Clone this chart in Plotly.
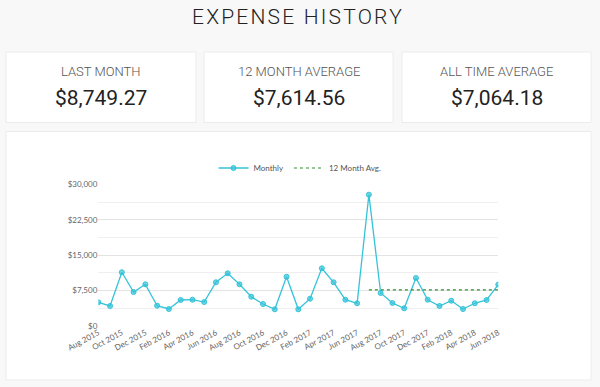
import plotly.graph_objects as go

W, H = 600, 387

months = ["Aug 2015", "Sep 2015", "Oct 2015", "Nov 2015", "Dec 2015", "Jan 2016", "Feb 2016",
          "Mar 2016", "Apr 2016", "May 2016", "Jun 2016", "Jul 2016", "Aug 2016", "Sep 2016",
          "Oct 2016", "Nov 2016", "Dec 2016", "Jan 2017", "Feb 2017", "Mar 2017", "Apr 2017",
          "May 2017", "Jun 2017", "Jul 2017", "Aug 2017", "Sep 2017", "Oct 2017", "Nov 2017",
          "Dec 2017", "Jan 2018", "Feb 2018", "Mar 2018", "Apr 2018", "May 2018", "Jun 2018"]
monthly = [5000, 4220, 11360, 7180, 8810, 4280, 3580, 5490, 5550, 5060, 9240, 11140, 8810, 6190,
           4640, 3520, 10420, 3520, 5760, 12200, 9240, 5550, 4790, 27800, 6970, 4850, 3730, 10150,
           5550, 4220, 5340, 3580, 4790, 5490, 8749.27]
avg_months = months[-12:]
avg_values = [7614.56] * 12
tick_labels = months[::2]
y_ticks = [0, 7500, 15000, 22500, 30000]
y_tick_text = ["$0", "$7,500", "$15,000", "$22,500", "$30,000"]

cards = [("LAST MONTH", "$8,749.27"), ("12 MONTH AVERAGE", "$7,614.56"), ("ALL TIME AVERAGE", "$7,064.18")]

def px(x):
    return x / W

def py(y):
    return 1 - y / H

fig = go.Figure()
fig.add_trace(go.Scatter(
    x=months, y=monthly, mode="lines+markers", name="Monthly",
    line=dict(color="#35c3d9", width=1.3),
    marker=dict(size=5, color="rgba(53,195,217,0.7)", line=dict(color="#35c3d9", width=1)),
))
fig.add_trace(go.Scatter(
    x=avg_months, y=avg_values, mode="lines", name="12 Month Avg.",
    line=dict(color="#2f8f2f", width=1.2, dash="dot"),
))

shapes = []
card_x = [(6, 196), (204, 393), (402, 591)]
for (x0, x1) in card_x:
    shapes.append(dict(type="rect", xref="paper", yref="paper", x0=px(x0), x1=px(x1),
                       y0=py(122.5), y1=py(52), fillcolor="white",
                       line=dict(color="#ececec", width=1), layer="below"))
shapes.append(dict(type="rect", xref="paper", yref="paper", x0=px(6), x1=px(591),
                   y0=py(380), y1=py(131.5), fillcolor="white",
                   line=dict(color="#ececec", width=1), layer="below"))

annotations = [dict(
    text='<span style="letter-spacing:2.2px">EXPENSE HISTORY</span>',
    x=px(298), y=py(17), xref="paper", yref="paper", showarrow=False,
    font=dict(family="Roboto", size=21, color="#222222", weight=300),
    xanchor="center", yanchor="middle")]
for (x0, x1), (lab, val) in zip(card_x, cards):
    cx = (x0 + x1) / 2
    annotations.append(dict(text=lab, x=px(cx), y=py(71), xref="paper", yref="paper",
                            showarrow=False, xanchor="center", yanchor="middle",
                            font=dict(family="Roboto", size=13, color="#555555", weight=300)))
    annotations.append(dict(text=val, x=px(cx), y=py(98), xref="paper", yref="paper",
                            showarrow=False, xanchor="center", yanchor="middle",
                            font=dict(family="Roboto", size=21, color="#222222", weight=400)))

fig.update_layout(
    width=W, height=H,
    margin=dict(l=0, r=0, t=0, b=0, autoexpand=False),
    paper_bgcolor="#f8f8f8", plot_bgcolor="white",
    shapes=shapes, annotations=annotations,
    font=dict(family="Lato", size=8, color="#666666"),
    showlegend=True,
    legend=dict(orientation="h", x=0.5, xanchor="center", y=py(168), yanchor="middle",
                font=dict(family="Lato", size=8, color="#555555"), bgcolor="rgba(0,0,0,0)",
                itemwidth=30),
    xaxis=dict(domain=[px(98.3), px(498.3)], type="category", range=[0, len(months) - 1],
               tickmode="array", tickvals=tick_labels, ticktext=tick_labels, automargin=False,
               tickangle=-28, showgrid=False, zeroline=False, showline=False,
               ticks="", tickfont=dict(family="Lato", size=8, color="#666666")),
    yaxis=dict(domain=[py(325.9), py(184.3)], range=[0, 30000], tickmode="array",
               tickvals=y_ticks, ticktext=y_tick_text, automargin=False,
               showgrid=True, gridcolor="#e3e3e3",
               gridwidth=1, zeroline=False, showline=False, ticks="",
               minor=dict(dtick=3750, tick0=0, showgrid=True, gridcolor="#efefef"),
               tickfont=dict(family="Lato", size=8, color="#666666")),
)

fig.write_html("out.html", config={"displayModeBar": False},
               post_script="document.body.style.margin='0';document.body.style.background='#f8f8f8';")
